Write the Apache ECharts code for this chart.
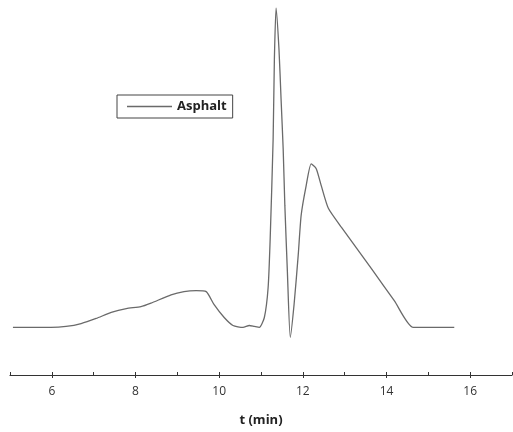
<!DOCTYPE html>
<html>
<head>
<meta charset="UTF-8"/>
<script src="https://cdn.jsdelivr.net/npm/echarts@6/dist/echarts.min.js"></script>
<style>
  html, body { margin: 0; padding: 0; background: #fff; }
  #main { width: 513px; height: 432px; }
</style>
</head>
<body>
<div id="main"></div>
<script type="text/javascript">
// retention time (min)
var tValues = [5.07, 5.98, 6.34, 6.7, 7.06, 7.42, 7.78, 8.13, 8.37, 8.85, 9.16, 9.45, 9.69, 9.88, 10.12,
    10.33, 10.57, 10.72, 10.84, 10.96, 11.08, 11.17, 11.22, 11.29, 11.32, 11.36, 11.43, 11.48, 11.53,
    11.57, 11.63, 11.70, 11.79, 11.89, 11.96, 12.08, 12.2, 12.32, 12.44, 12.61, 12.92, 13.64, 14.19,
    14.64, 15.62];
// detector signal (arbitrary units, peak = 100)
var signal = [0, 0, 0.3, 1.2, 2.8, 4.7, 5.9, 6.5, 7.6, 10.2, 11.2, 11.5, 11.2, 7.1, 3.1,
    0.6, 0, 0.6, 0.3, 0, 3.1, 12.4, 28, 59, 84, 100, 87, 71.4, 55.9,
    38.2, 17.7, -3.1, 7.1, 22.7, 35.1, 44.4, 51.2, 49.7, 44.4, 37.3, 31.4, 18.4, 8.3,
    0, 0];

var points = [];
for (var i = 0; i < tValues.length; i++) {
    points.push([tValues[i], signal[i]]);
}

var unit = 502 / 12; // px per minute
var myChart = echarts.init(document.getElementById('main'));
var option = {
    animation: false,
    textStyle: {fontFamily: 'Open Sans'},
    legend: {
        data: ['Asphalt'],
        left: 117,
        top: 95,
        padding: [5, 6, 5, 10],
        borderColor: '#444',
        borderWidth: 1,
        icon: 'rect',
        itemWidth: 45,
        itemHeight: 1.3,
        itemStyle: {color: '#6a6a6a'},
        textStyle: {fontSize: 13, fontWeight: 'bold', color: '#222', fontFamily: 'Open Sans'}
    },
    grid: [{
        left: 10, right: 1, top: 8, bottom: 54
    }, {
        // same scale as grid 0, but starting at t = 6 so that major ticks fall on even values
        left: 10 + unit, right: 1 + unit, top: 8, bottom: 54
    }],
    xAxis: [{
        type: 'value',
        gridIndex: 0,
        min: 5,
        max: 17,
        interval: 1,
        axisLine: {show: true, onZero: false, lineStyle: {color: '#333', width: 1.2}},
        axisTick: {show: true, inside: true, length: 3, lineStyle: {color: '#333'}},
        axisLabel: {show: false},
        splitLine: {show: false},
        name: 't (min)',
        nameLocation: 'middle',
        nameGap: 39,
        nameTextStyle: {fontSize: 13, fontWeight: 'bold', color: '#222', fontFamily: 'Open Sans'}
    }, {
        type: 'value',
        gridIndex: 1,
        min: 6,
        max: 16,
        interval: 2,
        axisLine: {show: false, onZero: false},
        axisTick: {show: true, inside: true, length: 6, lineStyle: {color: '#333'}},
        axisLabel: {color: '#333', fontSize: 12, margin: 8},
        splitLine: {show: false}
    }],
    yAxis: [{
        type: 'value', gridIndex: 0, min: -14.9, max: 100, show: false
    }, {
        type: 'value', gridIndex: 1, min: 0, max: 1, show: false
    }],
    series: [{
        name: 'Asphalt',
        type: 'line',
        xAxisIndex: 0,
        yAxisIndex: 0,
        data: points,
        symbol: 'none',
        smooth: 0.2,
        lineStyle: {color: '#6a6a6a', width: 1.3},
        itemStyle: {color: '#6a6a6a'}
    }]
};
myChart.setOption(option);
</script>
</body>
</html>
